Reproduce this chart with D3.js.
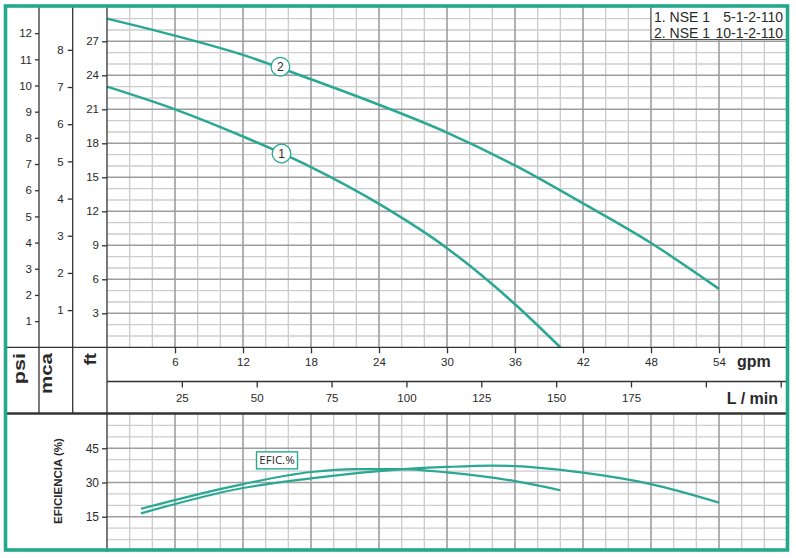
<!DOCTYPE html>
<html><head><meta charset="utf-8">
<script src="https://cdn.jsdelivr.net/npm/d3@7"></script>
<style>
body{margin:0;background:#fff}
svg{display:block}
text{font-family:"Liberation Sans",Arial,sans-serif;fill:#2a2a2a}
</style>
</head><body>
<svg id="c" width="796" height="558"></svg>
<script>
// ---------- data ----------
const gpmTicks = [6,12,18,24,30,36,42,48,54];
const lminTicks = [25,50,75,100,125,150,175,200,225];
const lminLabeled = [25,50,75,100,125,150,175];
const psiTicks = [1,2,3,4,5,6,7,8,9,10,11,12];
const mcaTicks = [1,2,3,4,5,6,7,8];
const ftTicks = [3,6,9,12,15,18,21,24,27];
const effTicks = [15,30,45];

const pump1Gpm = [0,6,12,18,24,30,33,36,40];
const pump1Ft  = [23.0,21.0,18.6,15.9,12.65,8.75,6.4,3.8,0];
const pump2Gpm = [0,6,12,18,24,30,36,42,48,54];
const pump2Ft  = [29.0,27.5,25.8,23.65,21.4,18.95,16.05,12.7,9.2,5.15];

const eff1Gpm = [3,12,18,22,26,30,36,40];
const eff1Val = [18.5,29.3,34.6,35.9,35.9,34.4,30.6,26.6];
const eff2Gpm = [3,12,18,24,30,34,36,42,48,54];
const eff2Val = [16.5,27.6,31.8,35.0,36.8,37.4,37.2,34.3,29.3,21.2];

const curveLabels = ["1","2"];
const curveLabelGpm = [15.4,15.3];
const curveLabelFt = [17.1,24.76];

const legendNames = ["1. NSE 1","2. NSE 1"];
const legendModels = ["5-1-2-110","10-1-2-110"];

const effLabel = "EFIC.%";
const effLabelGpm = 15.0, effLabelVal = 39.7;

// ---------- setup ----------
const TEAL = "#23a88e";
const CURVE = "#2aa893";
const svg = d3.select("#c");
svg.append("rect").attr("width",796).attr("height",558).attr("fill","#fff");

const x = d3.scaleLinear([0,60],[107,787]);
const xL = d3.scaleLinear([0,60*3.785],[107,787]);
const yFt = d3.scaleLinear([0,30],[347.3,7.3]);
const yPsi = d3.scaleLinear([0,30/2.31],[347.3,7.3]);
const yMca = d3.scaleLinear([0,30/3.281],[347.3,7.3]);
const yEff = d3.scaleLinear([0,60],[551,414]);

// ---------- grids ----------
function grid(g, yScale, yStep, yMajor, yMax, yTop, yBot){
  const vx = d3.range(2,60,2);
  const hy = d3.range(yStep, yMax, yStep);
  const minorV = vx.filter(v=>v%6!==0), majorV = vx.filter(v=>v%6===0);
  const minorH = hy.filter(v=>Math.abs(v%yMajor)>1e-6), majorH = hy.filter(v=>Math.abs(v%yMajor)<1e-6);
  const mk = (arr, isV, col, w) => g.append("g").selectAll("line").data(arr).join("line")
    .attr("x1", d=> isV? x(d):107).attr("x2", d=> isV? x(d):787)
    .attr("y1", d=> isV? yTop: yScale(d)).attr("y2", d=> isV? yBot: yScale(d))
    .attr("stroke", col).attr("stroke-width", w);
  mk(minorH,false,"#cdcdcd",1.4);
  mk(minorV,true,"#cdcdcd",1.4);
  mk(majorH,false,"#9d9d9d",1.6);
  mk(majorV,true,"#9d9d9d",1.6);
}
grid(svg.append("g"), yFt, 1, 3, 30, 7, 347.3);
grid(svg.append("g"), yEff, 5, 15, 60, 414, 551);

// ---------- curves ----------
const lineFt = d3.line().x(d=>x(d[0])).y(d=>yFt(d[1])).curve(d3.curveMonotoneX);
const lineEff = d3.line().x(d=>x(d[0])).y(d=>yEff(d[1])).curve(d3.curveMonotoneX);
[[pump1Gpm,pump1Ft],[pump2Gpm,pump2Ft]].forEach(([g,v])=>{
  svg.append("path").attr("d", lineFt(g.map((d,i)=>[d,v[i]])))
    .attr("fill","none").attr("stroke",CURVE).attr("stroke-width",2.5);
});
[[eff1Gpm,eff1Val],[eff2Gpm,eff2Val]].forEach(([g,v])=>{
  svg.append("path").attr("d", lineEff(g.map((d,i)=>[d,v[i]])))
    .attr("fill","none").attr("stroke",CURVE).attr("stroke-width",2.2);
});

// curve number labels
curveLabels.forEach((t,i)=>{
  const gg = svg.append("g").attr("transform",`translate(${x(curveLabelGpm[i])},${yFt(curveLabelFt[i])})`);
  gg.append("circle").attr("r",9.3).attr("fill","#fff").attr("stroke",CURVE).attr("stroke-width",1.3);
  gg.append("text").attr("text-anchor","middle").attr("dy","0.36em").attr("font-size",12).text(t);
});

// EFIC.% label
{
  const gg = svg.append("g").attr("transform",`translate(${x(effLabelGpm)},${yEff(effLabelVal)})`);
  gg.append("rect").attr("x",-20.5).attr("y",-8.5).attr("width",41).attr("height",17)
    .attr("fill","#fff").attr("stroke",CURVE).attr("stroke-width",1.4);
  gg.append("text").attr("text-anchor","middle").attr("dy","0.36em")
    .style("font-family","'Open Sans',sans-serif").attr("font-size",11.5).text(effLabel);
}

// ---------- legend ----------
svg.append("rect").attr("x",651).attr("y",7).attr("width",136).attr("height",32.5).attr("fill","#fff");
svg.append("path").attr("d","M651,7V39.5H787").attr("fill","none").attr("stroke","#555").attr("stroke-width",1.1);
legendNames.forEach((n,i)=>{
  svg.append("text").attr("x",654).attr("y",21.5+16*i).attr("font-size",14).text(n);
  svg.append("text").attr("x",783).attr("y",21.5+16*i).attr("font-size",14).attr("text-anchor","end").text(legendModels[i]);
});

// ---------- structure lines ----------
const LC = "#333";
const ln = (x1,y1,x2,y2,w)=>svg.append("line").attr("x1",x1).attr("y1",y1).attr("x2",x2).attr("y2",y2).attr("stroke",LC).attr("stroke-width",w||1.3);
ln(39,5,39,413.5);
ln(72.7,5,72.7,413.5);
ln(107,5,107,552);
ln(5,347.3,789,347.3);
ln(107,381.5,789,381.5);
ln(5,413.5,789,413.5,2.4);

// ---------- axes ----------
function styleAxis(g, fs){
  g.select(".domain").remove();
  g.selectAll(".tick line").attr("stroke",LC).attr("stroke-width",1.3);
  g.selectAll(".tick text").attr("font-size",fs).attr("fill","#2a2a2a")
    .style("font-family","'Liberation Sans',Arial,sans-serif");
}
styleAxis(svg.append("g").attr("transform","translate(39,0)")
  .call(d3.axisLeft(yPsi).tickValues(psiTicks).tickSize(4).tickPadding(3)), 11.5);
styleAxis(svg.append("g").attr("transform","translate(72.7,0)")
  .call(d3.axisLeft(yMca).tickValues(mcaTicks).tickSize(5).tickPadding(4)), 11.5);
styleAxis(svg.append("g").attr("transform","translate(107,0)")
  .call(d3.axisLeft(yFt).tickValues(ftTicks).tickSize(5).tickPadding(3)), 11.5);
styleAxis(svg.append("g").attr("transform","translate(107,0)")
  .call(d3.axisLeft(yEff).tickValues(effTicks).tickSize(5).tickPadding(3)), 12);
styleAxis(svg.append("g").attr("transform","translate(0,347.3)")
  .call(d3.axisBottom(x).tickValues(gpmTicks).tickSize(6).tickPadding(5)), 11.5);
styleAxis(svg.append("g").attr("transform","translate(0,381.5)")
  .call(d3.axisBottom(xL).tickValues(lminTicks).tickSize(6).tickPadding(6)
    .tickFormat(d=> lminLabeled.includes(d)? d : "")), 11.5);

// axis titles
svg.append("text").attr("x",737).attr("y",367).attr("font-size",16).attr("font-weight","bold").text("gpm");
svg.append("text").attr("x",778).attr("y",404).attr("font-size",16).attr("font-weight","bold").attr("text-anchor","end").text("L / min");
[["psi",25,1.35],["mca",52,1.28],["ft",96,1.15]].forEach(([t,xx,sx])=>{
  svg.append("text").attr("transform",`translate(${xx},353) rotate(-90) scale(${sx},1)`).attr("text-anchor","end")
    .attr("font-size",16).attr("font-weight","bold").text(t);
});
svg.append("text").attr("transform","translate(62,481) rotate(-90)").attr("text-anchor","middle")
  .attr("font-size",11.5).attr("font-weight","bold").text("EFICIENCIA (%)");

// ---------- outer frame ----------
svg.append("rect").attr("x",5.5).attr("y",6).attr("width",782).attr("height",544)
  .attr("fill","none").attr("stroke",TEAL).attr("stroke-width",3.6);
</script>
</body></html>
